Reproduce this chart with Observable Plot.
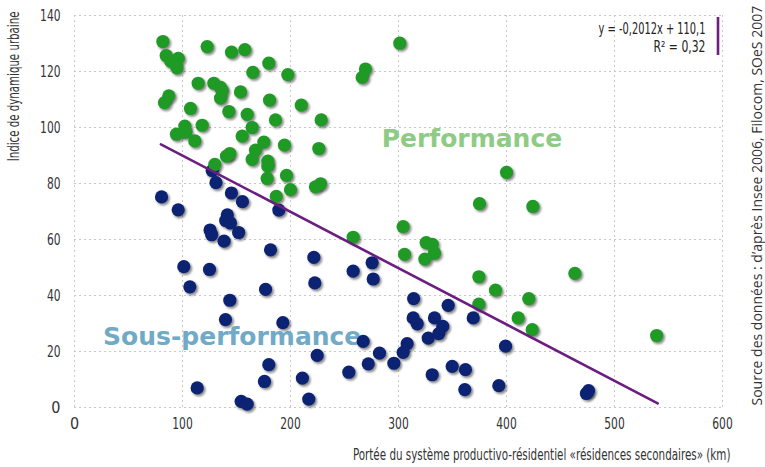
<!DOCTYPE html>
<html>
<head>
<meta charset="utf-8">
<script src="https://cdn.jsdelivr.net/npm/d3@7"></script>
<script src="https://cdn.jsdelivr.net/npm/@observablehq/plot@0.6"></script>
<style>
  html, body { margin: 0; padding: 0; background: #fff; }
  #chart svg { display: block; }
</style>
</head>
<body>
<div id="chart"></div>
<script>
// ---- data ----
const performanceX = [81.8, 84.9, 89.2, 96.1, 94.8, 122.8, 145.4, 157.7, 179.9, 197.5, 165.1,
  87.3, 83.3, 114.5, 129, 135.2, 136.7, 135.2, 153.7, 180.6,
  107.4, 142.9, 159.9, 186.1, 210, 102.1, 103, 94.4, 118.2, 111.4, 164.5, 155.3,
  129.9, 140.7, 143.8, 167.6, 175.3, 164.5, 179, 179, 194.4,
  178.4, 196.3, 200, 186.8, 228.4, 226.2, 223.1, 227.8,
  301.2, 269.4, 266.4, 400, 375, 424.4, 304.3, 258,
  325.6, 331.2, 333.3, 324.4, 305.6,
  463.3, 374.4, 389.8, 420.6, 374.4, 410.8, 423.8, 539];
const performanceY = [130.7, 125.7, 123.6, 124.7, 121.3, 128.9, 126.9, 127.8, 123, 118.9, 119.7,
  111.3, 108.9, 115.8, 115.8, 114.3, 113.1, 110.5, 112.7, 109.8,
  106.8, 105.7, 104.7, 102.7, 108, 100.5, 98.3, 97.6, 100.8, 95.2, 100, 96.9,
  86.8, 89.8, 90.7, 91.9, 94.8, 88.6, 88, 86.2, 93.7,
  81.8, 82.9, 77.8, 75.4, 102.7, 92.5, 78.8, 79.9,
  130.1, 120.9, 117.9, 84, 72.8, 71.8, 64.6, 60.8,
  58.9, 58.3, 55.1, 53, 54.7,
  47.9, 46.7, 41.9, 38.9, 36.9, 32, 27.8, 25.7];

const sousX = [80.6, 96, 127.5, 131, 145.3, 155.5, 189.2, 141.5, 140, 144.4, 152, 125.5, 127, 138.5,
  181.5, 101.2, 125, 106.8, 176.9, 143.8, 139.8, 192.9, 179.9, 175.9, 113.6, 154.3, 159.9,
  211, 216.9, 221.6, 222.5, 258, 275.6, 276.6, 224.7, 267.3, 254, 272, 282.4, 295.7, 304.3, 308,
  314, 313.6, 317.3, 333.3, 341, 337.3, 327.5, 346, 369.2, 331.2, 349.7, 362, 361.4, 392.9, 399.1,
  474, 476];
const sousY = [75.2, 70.6, 84.6, 80.3, 76.6, 73.5, 70.5, 68.8, 66.8, 65.9, 62.5, 63.4, 61.7, 59.4,
  56.3, 50.3, 49.3, 43.1, 42.2, 38.3, 31.4, 30.3, 15.3, 9.3, 7, 2.2, 1.2,
  10.5, 3, 53.6, 44.5, 48.7, 51.7, 45.9, 18.6, 23.6, 12.6, 15.6, 19.4, 15.8, 19.7, 22.8,
  38.9, 32, 29.9, 32, 29, 26.4, 24.8, 36.5, 32, 11.7, 14.7, 13.5, 6.4, 7.8, 21.9,
  5, 6];

// trend line end points as drawn (y = -0,2012x + 110,1)
const trendX = [80, 540];
const trendY = [94.0, 1.5];

const xTicks = [0, 100, 200, 300, 400, 500, 600];
const yTicks = [0, 20, 40, 60, 80, 100, 120, 140];

const labels = {
  y: "Indice de dynamique urbaine",
  x: "Portée du système productivo-résidentiel «résidences secondaires» (km)",
  source: "Source des données : d’après Insee 2006, Filocom, SOeS 2007",
  eq: "y = -0,2012x + 110,1",
  r2: "R² = 0,32",
  perf: "Performance",
  sous: "Sous-performance"
};
const annotX = [368, 146];
const annotY = [93.2, 22.5];

// ---- build ----
const perf = performanceX.map((x, i) => ({x, y: performanceY[i]}));
const sous = sousX.map((x, i) => ({x, y: sousY[i]}));
const trend = trendX.map((x, i) => ({x, y: trendY[i]}));
const allDots = [...sous, ...perf];

const narrow = "'Liberation Sans Narrow', 'DejaVu Sans Condensed', 'Arial Narrow', sans-serif";

const chart = Plot.plot({
  width: 765,
  height: 467,
  marginLeft: 74,
  marginRight: 43,
  marginTop: 15,
  marginBottom: 60,
  style: {fontFamily: narrow, fontSize: "15px", color: "#333", background: "#fff"},
  x: {domain: [0, 600], ticks: xTicks},
  y: {domain: [0, 140], ticks: yTicks},
  marks: [
    Plot.gridX(xTicks, {stroke: "#c8c8c8", strokeOpacity: 1, strokeDasharray: "2,3"}),
    Plot.gridY(yTicks, {stroke: "#c8c8c8", strokeOpacity: 1, strokeDasharray: "2,3"}),
    Plot.axisX(xTicks, {tickSize: 0, tickPadding: 10, label: null, fontSize: 16}),
    Plot.axisY(yTicks, {tickSize: 0, tickPadding: 14, label: null, fontSize: 16}),
    // annotations
    Plot.text([labels.perf], {x: [annotX[0]], y: [annotY[0]], text: d => d, fill: "#8ecb84",
      fontFamily: "DejaVu Sans", fontWeight: "bold", fontSize: 25, lineAnchor: "bottom", textAnchor: "middle"}),
    Plot.text([labels.sous], {x: [annotX[1]], y: [annotY[1]], text: d => d, fill: "#70aac6",
      fontFamily: "DejaVu Sans", fontWeight: "bold", fontSize: 25, lineAnchor: "bottom", textAnchor: "middle"}),
    // shadows
    Plot.dot(allDots, {x: "x", y: "y", r: 6.8, fill: "#000", fillOpacity: 0.45, dx: 1.6, dy: 1.8}),
    Plot.dot(sous, {x: "x", y: "y", r: 6.6, fill: "#0c2374"}),
    Plot.dot(perf, {x: "x", y: "y", r: 6.6, fill: "#1f9a25"}),
    Plot.line(trend, {x: "x", y: "y", stroke: "#6b1d80", strokeWidth: 2.6}),
    // y label
    Plot.text([labels.y], {frameAnchor: "top-left", text: d => d, rotate: -90, textAnchor: "end",
      lineAnchor: "middle", dx: -60, dy: -4, fontSize: 15, fill: "#333"}),
    // x label
    Plot.text([labels.x], {frameAnchor: "bottom-right", text: d => d, textAnchor: "end",
      lineAnchor: "middle", dx: 8, dy: 48, fontSize: 15, fill: "#333"}),
    // source
    Plot.text([labels.source], {frameAnchor: "bottom-right", text: d => d, rotate: -90, textAnchor: "start",
      lineAnchor: "middle", dx: 35, dy: -2, fontSize: 14, fontFamily: "'Open Sans', sans-serif", fill: "#333"}),
    // legend
    Plot.text([labels.eq], {frameAnchor: "top-right", text: d => d, textAnchor: "end", lineAnchor: "bottom",
      dx: -17, dy: 18, fontSize: 15, fill: "#222"}),
    Plot.text([labels.r2], {frameAnchor: "top-right", text: d => d, textAnchor: "end", lineAnchor: "bottom",
      dx: -17, dy: 36, fontSize: 15, fill: "#222"})
  ]
});

// shadow blur + legend bar (post-processing of Plot's SVG)
const svg = d3.select(chart);
const defs = svg.insert("defs", ":first-child");
defs.append("filter").attr("id", "soft").attr("x", "-50%").attr("y", "-50%").attr("width", "200%").attr("height", "200%")
  .append("feGaussianBlur").attr("stdDeviation", 1.1);
const dotGroups = chart.querySelectorAll('g[aria-label="dot"]');
if (dotGroups.length) dotGroups[0].setAttribute("filter", "url(#soft)");
svg.append("line").attr("x1", 718).attr("x2", 718).attr("y1", 17).attr("y2", 55)
  .attr("stroke", "#6b1d80").attr("stroke-width", 2.6);

// condense the narrow-font texts along their direction with a scale transform
const targetWidths = new Map([
  [labels.x, 378], [labels.y, 150], [labels.eq, 107], [labels.r2, 52]
]);
document.getElementById("chart").appendChild(chart);
chart.querySelectorAll("text").forEach(t => {
  const s = t.textContent;
  let w = targetWidths.get(s);
  if (w == null && /^\d+$/.test(s) && s.length > 1) w = s.length * 6.8;
  if (w == null) return;
  const xa = t.getAttribute("x");
  if (xa != null && parseFloat(xa) !== 0) return;
  const natural = t.getComputedTextLength();
  if (!(natural > 0)) return;
  const k = Math.min(1, w / natural);
  const T = t.getAttribute("transform") || "";
  t.setAttribute("transform", `${T} scale(${k},1)`.trim());
});
</script>
</body>
</html>
